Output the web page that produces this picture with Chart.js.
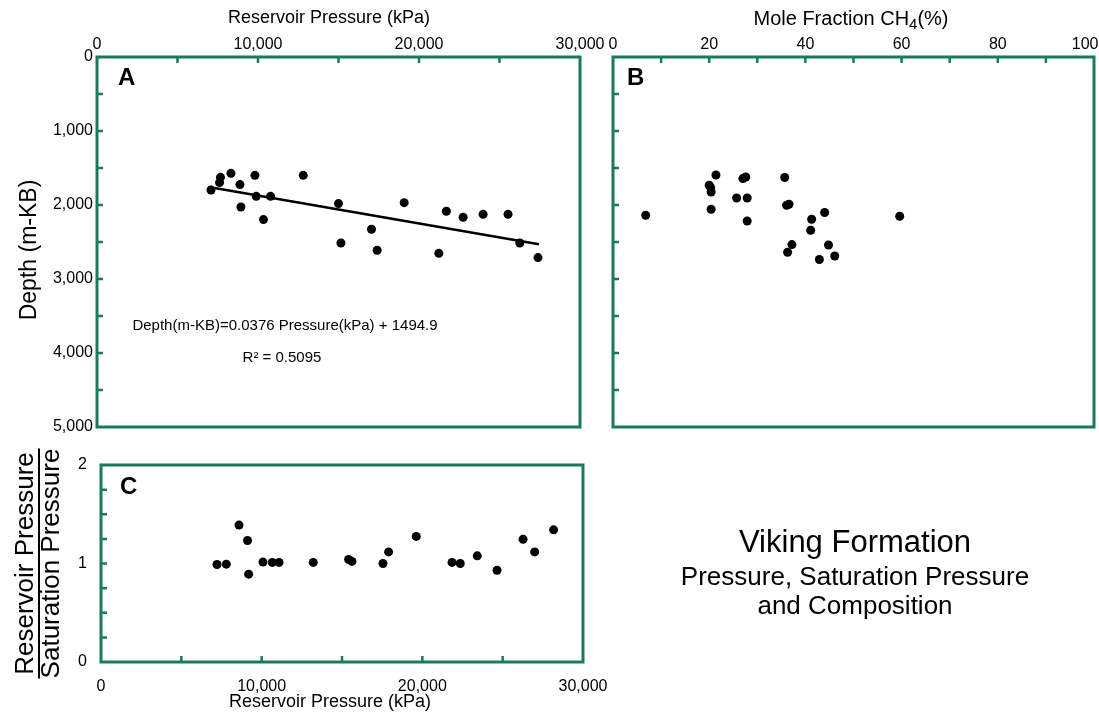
<!DOCTYPE html>
<html lang="en">
<head>
<meta charset="UTF-8">
<title>Viking Formation</title>
<script src="https://cdn.jsdelivr.net/npm/chart.js"></script>
<style>
  body { margin:0; background:#fff; font-family:"Liberation Sans", Arial, sans-serif; }
  #wrap { position:relative; width:1099px; height:713px; overflow:hidden; }
  canvas { position:absolute; left:0; top:0; }
  .note { position:absolute; color:#000; white-space:nowrap; line-height:1; }
  .mid { text-align:center; }
</style>
</head>
<body>
<div id="wrap">
  <canvas id="chartA" width="1099" height="713"></canvas>
  <canvas id="chartB" width="1099" height="713"></canvas>
  <canvas id="chartC" width="1099" height="713"></canvas>

  <div class="note" style="left:118px;top:65px;font-size:24px;font-weight:bold">A</div>
  <div class="note" style="left:627px;top:65px;font-size:24px;font-weight:bold">B</div>
  <div class="note" style="left:120px;top:474px;font-size:24px;font-weight:bold">C</div>

  <div class="note mid" style="left:85px;width:400px;top:317px;font-size:15px">Depth(m-KB)=0.0376 Pressure(kPa) + 1494.9</div>
  <div class="note mid" style="left:182px;width:200px;top:349px;font-size:15px">R² = 0.5095</div>

  <div class="note mid" style="left:605px;width:500px;top:526px;font-size:31px">Viking Formation</div>
  <div class="note mid" style="left:605px;width:500px;top:563px;font-size:26px">Pressure, Saturation Pressure</div>
  <div class="note mid" style="left:605px;width:500px;top:592px;font-size:26px">and Composition</div>
</div>
<script>
// ---- data ----
// A : depth vs reservoir pressure
const pressureA = [7080, 7610, 7670, 8320, 8880, 8940, 9810, 9890, 10340, 10780, 12810, 15000,
                   15150, 17050, 17400, 19080, 21230, 21700, 22740, 23980, 25530, 26260, 27390];
const depthA    = [1797, 1697, 1626, 1572, 1724, 2027, 1599, 1883, 2197, 1883, 1599, 1981,
                   2514, 2328, 2612, 1968, 2653, 2085, 2166, 2126, 2126, 2514, 2711];
// regression line end points
const trendP = [7300, 27450];
const trendD = [1770, 2530];

// B : depth vs mole fraction CH4
const ch4B   = [6.8, 21.4, 20.0, 20.3, 20.4, 20.4, 25.7, 27.9, 27.9, 27.0, 27.6, 35.7,
                36.1, 36.6, 44.0, 41.3, 41.1, 37.2, 36.3, 44.8, 46.1, 42.9, 59.6];
const depthB = [2139, 1594, 1733, 1765, 1824, 2058, 1905, 1905, 2216, 1643, 1621, 1629,
                2004, 1990, 2102, 2193, 2341, 2535, 2639, 2540, 2689, 2737, 2152];

// C : reservoir / saturation pressure vs reservoir pressure
const pressureC = [7220, 7800, 8590, 9120, 9190, 10080, 10660, 11080, 13210, 15410, 15620,
                   17550, 17900, 19620, 21850, 22360, 23420, 24650, 26270, 26990, 28170];
const ratioC    = [0.99, 0.993, 1.39, 1.234, 0.892, 1.014, 1.011, 1.011, 1.011, 1.041, 1.021,
                   1.0, 1.118, 1.275, 1.011, 1.0, 1.078, 0.932, 1.245, 1.118, 1.342];

// tick labels
const pressureLabels = [0, 10000, 20000, 30000];
const depthLabels = [0, 1000, 2000, 3000, 4000, 5000];
const ch4Labels = [0, 20, 40, 60, 80, 100];
const ratioLabels = [0, 1, 2];

const GREEN = '#1b7a56';
const FONT = "'Liberation Sans', Arial, sans-serif";
Chart.defaults.font.family = FONT;
Chart.defaults.color = '#000';

const fmt = v => v.toLocaleString('en-US');
const toPts = (xs, ys) => xs.map((x, i) => ({x: x, y: ys[i]}));

// green frame + short inward tick marks
const frameTicks = {
  id: 'frameTicks',
  afterDraw(chart) {
    const {ctx, chartArea: a} = chart;
    const xs = chart.scales.x, ys = chart.scales.y;
    const len = 6;
    ctx.save();
    ctx.strokeStyle = GREEN;
    ctx.lineWidth = 3;
    ctx.strokeRect(a.left, a.top, a.right - a.left, a.bottom - a.top);
    ctx.lineWidth = 2.5;
    ctx.beginPath();
    xs.ticks.forEach(t => {
      if (t.value <= xs.min || t.value >= xs.max) return;
      const px = xs.getPixelForValue(t.value);
      if (xs.options.position === 'top') { ctx.moveTo(px, a.top); ctx.lineTo(px, a.top + len); }
      else { ctx.moveTo(px, a.bottom); ctx.lineTo(px, a.bottom - len); }
    });
    ys.ticks.forEach(t => {
      if (t.value <= ys.min || t.value >= ys.max) return;
      const py = ys.getPixelForValue(t.value);
      ctx.moveTo(a.left, py); ctx.lineTo(a.left + len, py);
    });
    ctx.stroke();
    ctx.restore();
  }
};

// axis titles placed where the figure has them (not always centred on the axis)
// parts: [text, size, dy] so a subscript can be written inline
const axisText = {
  id: 'axisText',
  afterDraw(chart, args, opts) {
    const {ctx} = chart;
    (opts.items || []).forEach(it => {
      ctx.save();
      ctx.translate(it.x, it.y);
      if (it.rot) ctx.rotate(it.rot);
      ctx.fillStyle = '#000';
      ctx.textBaseline = 'middle';
      ctx.textAlign = 'left';
      let total = 0;
      const ws = it.parts.map(p => { ctx.font = p[1] + 'px ' + FONT; const w = ctx.measureText(p[0]).width; total += w; return w; });
      let x = -total / 2;
      it.parts.forEach((p, i) => {
        ctx.font = p[1] + 'px ' + FONT;
        ctx.fillText(p[0], x, p[2] || 0);
        x += ws[i];
      });
      ctx.restore();
    });
  }
};

// fixed scale sizes so the plot boxes land where the figure has them
const fixH = h => s => { s.height = h; s.paddingLeft = 0; s.paddingRight = 0; };
const fixW = w => s => { s.width = w; s.paddingTop = 0; s.paddingBottom = 0; };

function dots(data) {
  return {data: data, pointRadius: 4.5, pointBackgroundColor: '#000', pointBorderWidth: 0, showLine: false};
}
function baseOpts(pad, items) {
  return {
    responsive: false,
    animation: false,
    events: [],
    layout: {padding: pad},
    plugins: {legend: {display: false}, tooltip: {enabled: false}, axisText: {items: items}}
  };
}
function linAxis(o) {
  return Object.assign({
    type: 'linear',
    grid: {display: false, drawTicks: false},
    border: {display: false},
  }, o);
}

// ---------- A ----------
const optA = baseOpts({left: 0, top: 0, right: 519, bottom: 286}, [
  {x: 329, y: 18, parts: [['Reservoir Pressure (kPa)', 18]]},
  {x: 30, y: 250, rot: -Math.PI / 2, parts: [['Depth (m-KB)', 23]]}
]);
optA.scales = {
  x: linAxis({position: 'top', min: 0, max: 30000,
    afterFit: fixH(57),
    ticks: {stepSize: 5000, autoSkip: false, maxRotation: 0, padding: 3, font: {size: 16},
      callback: v => pressureLabels.includes(v) ? fmt(v) : ''}
  }),
  y: linAxis({position: 'left', min: 0, max: 5000, reverse: true,
    afterFit: fixW(97),
    ticks: {stepSize: 500, autoSkip: false, padding: 4, font: {size: 16},
      callback: v => depthLabels.includes(v) ? fmt(v) : ''}
  })
};
new Chart(document.getElementById('chartA'), {
  type: 'scatter',
  data: {datasets: [
    dots(toPts(pressureA, depthA)),
    {data: toPts(trendP, trendD), showLine: true, borderColor: '#000', borderWidth: 2.5, pointRadius: 0}
  ]},
  options: optA,
  plugins: [frameTicks, axisText]
});

// ---------- B ----------
const optB = baseOpts({left: 0, top: 0, right: 5, bottom: 286}, [
  {x: 851, y: 19, parts: [['Mole Fraction CH', 20], ['4', 15, 6], ['(%)', 20]]}
]);
optB.scales = {
  x: linAxis({position: 'top', min: 0, max: 100,
    afterFit: fixH(57),
    ticks: {stepSize: 10, autoSkip: false, maxRotation: 0, padding: 3, font: {size: 16},
      // last label is nudged left (figure spaces) so it stays inside the page like the figure
      callback: v => !ch4Labels.includes(v) ? '' : (v === 100 ? '100\u2007\u2007' : String(v))}
  }),
  y: linAxis({position: 'left', min: 0, max: 5000, reverse: true,
    afterFit: fixW(613),
    ticks: {stepSize: 500, autoSkip: false, callback: () => ''}
  })
};
new Chart(document.getElementById('chartB'), {
  type: 'scatter',
  data: {datasets: [dots(toPts(ch4B, depthB))]},
  options: optB,
  plugins: [frameTicks, axisText]
});

// ---------- C ----------
const fracRule = {
  id: 'fracRule',
  afterDraw(chart) {
    const {ctx} = chart;
    const ys = chart.scales.y;
    const t = ys.options.title;
    const lh = t.font.size * t.font.lineHeight;
    const x = ys.left + t.padding.top + lh;
    ctx.save();
    ctx.font = t.font.size + 'px ' + FONT;
    const w = Math.max(...t.text.map(s => ctx.measureText(s).width));
    const cy = (ys.top + ys.bottom) / 2;
    ctx.strokeStyle = '#000';
    ctx.lineWidth = 2;
    ctx.beginPath();
    ctx.moveTo(x, cy - w / 2);
    ctx.lineTo(x, cy + w / 2);
    ctx.stroke();
    ctx.restore();
  }
};
const optC = baseOpts({left: 0, top: 465, right: 516, bottom: 0}, [
  {x: 330, y: 702, parts: [['Reservoir Pressure (kPa)', 18]]}
]);
optC.scales = {
  x: linAxis({position: 'bottom', min: 0, max: 30000,
    afterFit: fixH(51),
    ticks: {stepSize: 5000, autoSkip: false, maxRotation: 0, padding: 15, font: {size: 16},
      callback: v => pressureLabels.includes(v) ? fmt(v) : ''}
  }),
  y: linAxis({position: 'left', min: 0, max: 2,
    afterFit: fixW(101),
    ticks: {stepSize: 0.25, autoSkip: false, padding: 14, font: {size: 16},
      callback: v => ratioLabels.includes(v) ? String(v) : ''},
    title: {display: true, text: ['Reservoir Pressure', 'Saturation Pressure'],
      font: {size: 26, lineHeight: 1}, padding: {top: 13, bottom: 0}}
  })
};
new Chart(document.getElementById('chartC'), {
  type: 'scatter',
  data: {datasets: [dots(toPts(pressureC, ratioC))]},
  options: optC,
  plugins: [frameTicks, fracRule, axisText]
});
</script>
</body>
</html>
